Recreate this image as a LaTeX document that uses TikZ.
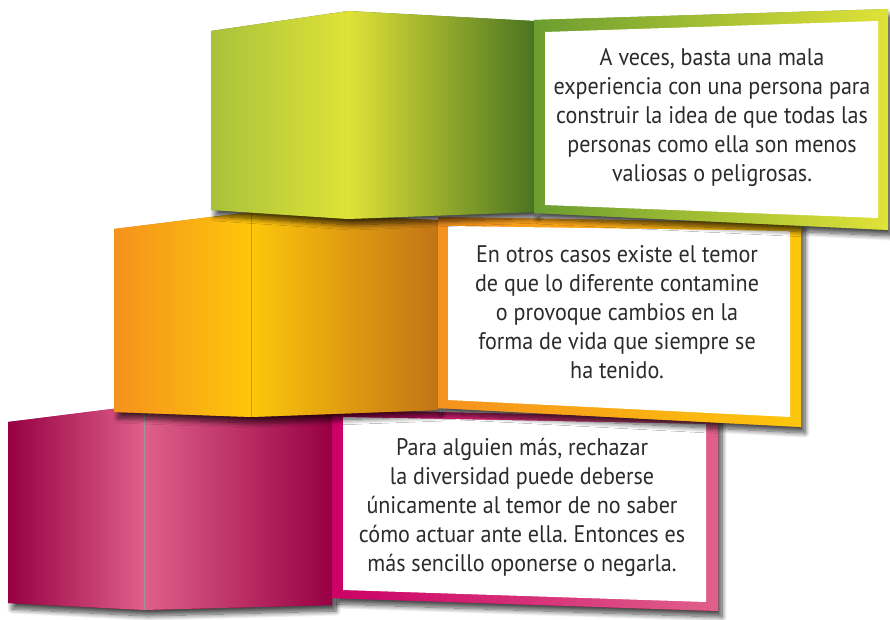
\documentclass[tikz,border=0pt]{standalone}
\usepackage{fontspec}
\setmainfont{PT Sans}[FakeStretch=0.92]
\usetikzlibrary{shadows.blur}
\frenchspacing

\definecolor{verdeosc}{HTML}{4A7421}
\definecolor{verdemed}{HTML}{A9C23B}
\definecolor{verdecla}{HTML}{E0E238}
\definecolor{verdemarco}{HTML}{6B9D30}
\definecolor{naranjaosc}{HTML}{C27416}
\definecolor{naranjamed}{HTML}{F5921E}
\definecolor{naranjacla}{HTML}{FDC60B}
\definecolor{rosaosc}{HTML}{970043}
\definecolor{rosacla}{HTML}{E0608A}
\definecolor{rosamarco}{HTML}{CC0066}
\definecolor{grisletra}{HTML}{2B2B2B}

\tikzset{
  sombra/.style={blur shadow={shadow xshift=4pt, shadow yshift=-6pt, shadow blur radius=5pt, shadow blur steps=10, shadow opacity=70}},
  pliegue/.style={draw=black!40, line width=0.5pt},
  texto/.style={align=center, text=grisletra, font=\fontsize{24}{29}\selectfont, inner sep=0pt}
}

\begin{document}
\begin{tikzpicture}[x=1pt, y=-1pt]
	\useasboundingbox (0,0) rectangle (890,620);

	% Nivel rosa
	\path [sombra, fill=rosaosc] (8,422) -- (144,405) -- (332,412) -- (332,605) -- (144,610) -- (8,603) -- cycle; % Bloque
	\shade [left color=rosaosc, right color=rosacla] (8,422) -- (144,405) -- (144,610) -- (8,603) -- cycle;
	\shade [left color=rosacla, right color=rosaosc] (144,405) -- (332,412) -- (332,605) -- (144,610) -- cycle;
	\draw [pliegue] (144,405) -- (144,610);
	\path [sombra, fill=rosamarco] (332,410) -- (718,418) -- (718,611) -- (332,598) -- cycle; % Marco
	\shade [left color=rosamarco, right color=rosacla] (332,410) -- (718,418) -- (718,611) -- (332,598) -- cycle;
	\fill [white] (343,417) -- (706,424) -- (706,602) -- (343,590) -- cycle;
	\node (textorosa) [texto] at (522,507) {Para alguien más, rechazar\\ la diversidad puede deberse\\ únicamente al temor de no saber\\ cómo actuar ante ella. Entonces es\\ más sencillo oponerse o negarla.};

	% Nivel naranja
	\path [sombra, fill=naranjaosc] (114,229) -- (251,212) -- (438,220) -- (438,410) -- (251,417) -- (114,412) -- cycle; % Bloque
	\shade [left color=naranjamed, right color=naranjacla] (114,229) -- (251,212) -- (251,417) -- (114,412) -- cycle;
	\shade [left color=naranjacla, right color=naranjaosc] (251,212) -- (438,220) -- (438,410) -- (251,417) -- cycle;
	\draw [pliegue] (251,212) -- (251,417);
	\path [sombra, fill=naranjamed] (438,217) -- (801,223) -- (801,427) -- (438,408) -- cycle; % Marco
	\shade [left color=naranjamed, right color=naranjacla] (438,217) -- (801,223) -- (801,427) -- (438,408) -- cycle;
	\fill [white] (448,226) -- (790,231) -- (790,417) -- (448,400) -- cycle;
	\node (textonaranja) [texto] at (617,312) {En otros casos existe el temor\\ de que lo diferente contamine\\ o provoque cambios en la\\ forma de vida que siempre se\\ ha tenido.};

	% Nivel verde
	\path [sombra, fill=verdeosc] (211,31) -- (348,11) -- (534,21) -- (534,212) -- (348,219) -- (211,210) -- cycle; % Bloque
	\shade [left color=verdemed, right color=verdecla] (211,31) -- (348,11) -- (348,219) -- (211,210) -- cycle;
	\shade [left color=verdecla, right color=verdeosc] (348,11) -- (534,21) -- (534,212) -- (348,219) -- cycle;
	\path [sombra, fill=verdemarco] (534,20) -- (888,9) -- (888,230) -- (534,213) -- cycle; % Marco
	\shade [left color=verdemarco, right color=verdecla] (534,20) -- (888,9) -- (888,230) -- (534,213) -- cycle;
	\fill [white] (545,32) -- (878,21) -- (878,218) -- (545,205) -- cycle;
	\node (textoverde) [texto] at (712,118) {A veces, basta una mala\\ experiencia con una persona para\\ construir la idea de que todas las\\ personas como ella son menos\\ valiosas o peligrosas.};
\end{tikzpicture}
\end{document}
